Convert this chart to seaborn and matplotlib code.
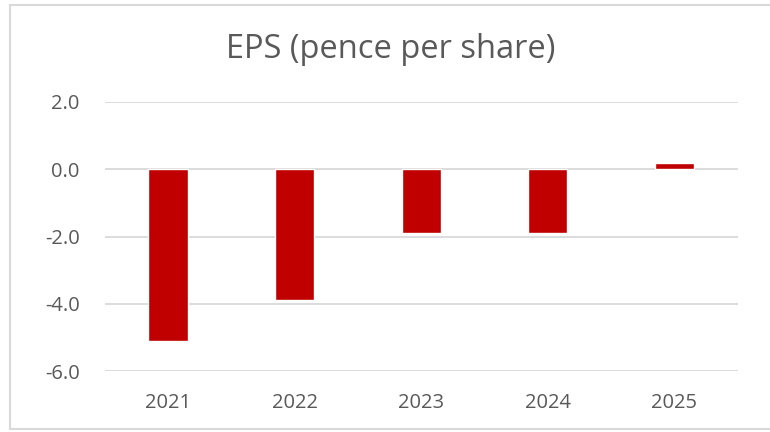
import matplotlib
matplotlib.use("Agg")
import matplotlib.pyplot as plt
import seaborn as sns
import pandas as pd
from matplotlib.lines import Line2D

years = ["2021", "2022", "2023", "2024", "2025"]
eps = [-5.1, -3.9, -1.9, -1.9, 0.2]
yticks = [-6.0, -4.0, -2.0, 0.0, 2.0]

df = pd.DataFrame({"year": years, "eps": eps})

sns.set_theme(style="white")
plt.rcParams["font.family"] = ["Open Sans", "DejaVu Sans"]

fig = plt.figure(figsize=(7.7, 4.32), dpi=100)
ax = fig.add_axes([0.136, 0.141, 0.822, 0.623])

sns.barplot(data=df, x="year", y="eps", color="#C00000", saturation=1,
            width=0.31, ax=ax, zorder=3)

ax.set_ylim(-6, 2)
ax.set_yticks(yticks)
ax.set_yticklabels([f"{v:.1f}" for v in yticks])
ax.grid(axis="y", color="#D9D9D9", linewidth=1.3, zorder=0)
ax.set_axisbelow(True)
for s in ax.spines.values():
    s.set_visible(False)
ax.set_xlabel("")
ax.set_ylabel("")
ax.tick_params(axis="both", length=0, labelsize=14.5, colors="#595959")
ax.tick_params(axis="y", pad=18)
ax.tick_params(axis="x", pad=16)
ax.set_xlim(-0.5, 4.5)

fig.text(0.508, 0.885, "EPS (pence per share)", ha="center", va="center",
         fontsize=23.5, color="#595959")

# outer border (chart frame)
fc = "#D9D9D9"
fig.add_artist(Line2D([10/770, 1], [1 - 5/432, 1 - 5/432], transform=fig.transFigure, color=fc, lw=1.5))
fig.add_artist(Line2D([10/770, 1], [1 - 429/432, 1 - 429/432], transform=fig.transFigure, color=fc, lw=1.5))
fig.add_artist(Line2D([10/770, 10/770], [1 - 5/432, 1 - 429/432], transform=fig.transFigure, color=fc, lw=1.5))

fig.savefig("out.png", dpi=100, facecolor="white")
